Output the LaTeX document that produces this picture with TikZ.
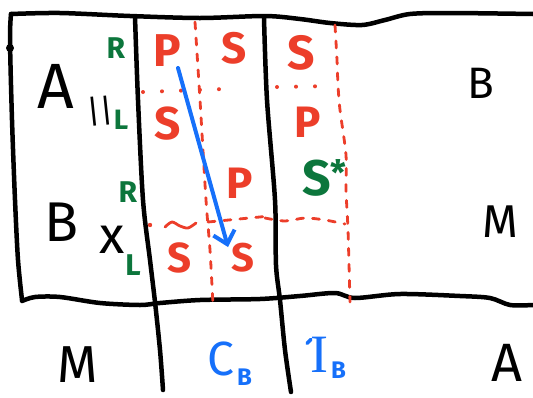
\documentclass[tikz,border=0pt]{standalone}
\usepackage{fontspec}
\setmainfont{Fira Sans}
\newfontfamily\serifI{Liberation Serif}
\usepackage{xcolor}
\usetikzlibrary{arrows.meta}
\definecolor{mkred}{RGB}{236,62,42}
\definecolor{mkgreen}{RGB}{12,118,60}
\definecolor{mkblue}{RGB}{22,112,250}
\newcommand{\fs}[1]{\fontsize{#1}{#1}\selectfont}

\begin{document}
\begin{tikzpicture}[x=1pt,y=-1pt]
    \tikzset{Ink/.style={inner sep=0pt, text=black, font=\fs{#1}},
             Mark/.style={inner sep=0pt, text=mkred, font=\fs{#1}\bfseries},
             Tag/.style={inner sep=0pt, text=mkgreen, font=\fs{#1}\bfseries},
             Blue/.style={inner sep=0pt, text=mkblue, font=\fs{#1}},
             Pen/.style={line width=4.5pt, line cap=round, line join=round},
             RedDash/.style={mkred, line width=2.8pt, line cap=round, dash pattern=on 7pt off 9pt},
             RedDot/.style={mkred, line width=4pt, line cap=round, dash pattern=on 0pt off 19pt}};
    \useasboundingbox (0,0) rectangle (533,397);
    % frame
    \draw[Pen] plot[smooth] coordinates {(11,14) (60,13) (130,16) (200,18) (265,16) (300,19) (330,23) (362,25) (385,20) (410,14) (450,13) (533,14)};
    \draw[Pen] plot[smooth] coordinates {(11,14) (10,40) (12,120) (15,200) (18,260) (22,300)};
    \draw[Pen] plot[smooth] coordinates {(22,301) (35,297) (60,297) (100,303) (140,305) (160,303) (200,300) (260,299) (300,296) (335,293) (355,298) (400,294) (460,296) (490,298) (510,305) (533,305)};
    \fill (10,48) circle (4);
    \draw[Pen] plot[smooth] coordinates {(135,17) (138,100) (143,200) (150,260) (155,302) (160,350) (163,390)};
    \draw[Pen] plot[smooth] coordinates {(264,18) (267,100) (275,200) (276,265) (280,300) (285,350) (291,392)};
    % red cuts
    \draw[RedDash] plot[smooth] coordinates {(195,22) (200,100) (206,200) (210,250) (213,305)};
    \draw[RedDot] (143,92) -- (225,89);
    \fill[mkred] (150,225) circle (2.2);
    \draw[mkred, line width=2.8pt, line cap=round] plot[smooth] coordinates {(165,227) (172,222) (180,226) (188,228) (196,223)};
    \draw[RedDash] (208,222) -- (270,216);
    \draw[RedDash] plot[smooth] coordinates {(335,25) (337,60) (338,85) (340,110) (346,155) (346,190) (348,230) (350,302)};
    \draw[RedDot] (277,87) -- (333,86);
    \draw[RedDash] plot[smooth] coordinates {(265,218) (285,221) (305,218) (325,220) (345,224)};
    % letters
    \node[Ink=64] (a) at (56,86) {A};
    \node[Ink=56] (b) at (62,222) {B};
    \node[Ink=52] (m) at (78,365) {M};
    \node[Ink=44] (b2) at (481,83) {B};
    \node[Ink=46] (m2) at (500,222) {M};
    \node[Ink=54] (a2) at (507,363) {A};
    \node[Ink=32, rotate=6] (par) at (100,111) {||};
    \node[Ink=52] (x) at (112,240) {x};
    \node[Mark=46] (p1) at (167,51) {P};
    \node[Mark=44] (s1) at (234,48) {S};
    \node[Mark=46] (s2) at (168,124) {S};
    \node[Mark=44] (p2) at (240,183) {P};
    \node[Mark=42] (s3) at (180,258) {S};
    \node[Mark=40] (s4) at (243,258) {S};
    \node[Mark=48] (s5) at (301,53) {S};
    \node[Mark=44] (p3) at (308,122) {P};
    \node[Tag=30] (r1) at (116,48) {R};
    \node[Tag=28] (l1) at (121,120) {L};
    \node[Tag=30] (r2) at (128,192) {R};
    \node[Tag=30] (l2) at (133,265) {L};
    \node[Tag=50, anchor=base west] (sstar) at (302,195) {S\textsuperscript{*}};
    \node[Blue=48, anchor=base west] (cb) at (207,375) {C\hspace{3pt}\raisebox{-10pt}{\fs{24}\bfseries B}};
    \node[Blue=54, anchor=base west] (ib) at (310,372) {{\serifI I}\hspace{3pt}\raisebox{-6pt}{\fs{24}\bfseries B}};
    \draw[mkblue, line width=3.5pt, line cap=round] ([shift={(1,3)}]ib.north west) -- ++(-4,4);
    % move
    \coordinate (cbtop) at (178,68);
    \coordinate (cbbot) at (228,247);
    \draw[mkblue, line width=4pt, line cap=round, -{Straight Barb[length=12pt,width=22pt]}] (cbtop) -- (cbbot);
\end{tikzpicture}
\end{document}
